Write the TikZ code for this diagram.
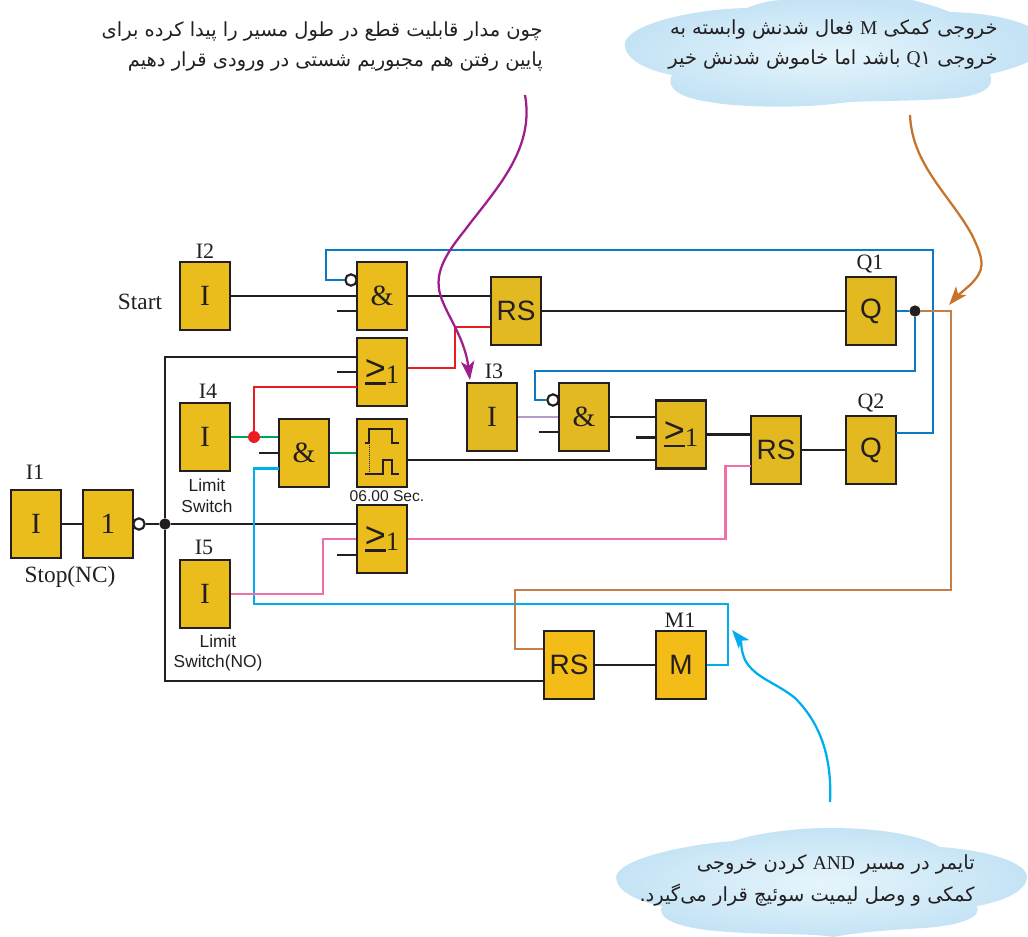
\documentclass[tikz,border=0pt]{standalone}
\usepackage{fontspec}
\setmainfont{Liberation Serif}
\setsansfont{Liberation Sans}
\newfontfamily\persianfont[Script=Arabic]{DejaVu Sans}
\TeXXeTstate=1
\usetikzlibrary{calc,arrows.meta}

\definecolor{gold}{HTML}{EABD1C}
\definecolor{darkgold}{HTML}{E2B921}
\definecolor{brightgold}{HTML}{F3BC17}
\definecolor{ink}{HTML}{231F20}
\definecolor{bluewire}{HTML}{0A7AC4}
\definecolor{cyanwire}{HTML}{00AEEF}
\definecolor{redwire}{HTML}{ED1C24}
\definecolor{greenwire}{HTML}{00A651}
\definecolor{pinkwire}{HTML}{F06EAA}
\definecolor{brownwire}{HTML}{C87D46}
\definecolor{lilacwire}{HTML}{B79CCB}
\definecolor{purplenote}{HTML}{9E1F8C}
\definecolor{orangenote}{HTML}{C8722A}
\definecolor{cloudin}{HTML}{E6F5FC}
\definecolor{cloudout}{HTML}{C4E3F5}

\newcommand{\orsign}{\mbox{\vtop{\offinterlineskip\hbox{\fontsize{27}{27}\sffamily >}\kern1.6pt\hrule height 1.7pt}\lower2.5pt\hbox{\fontsize{20}{20}\rmfamily 1}}}

\begin{document}
\begin{tikzpicture}
	[x=0.75pt,y=-0.75pt,
		block/.style={draw=ink,line width=2pt,fill=gold,inner sep=0pt,minimum
		width=37.5pt,minimum height=51pt,text=ink,font=\fontsize{22}{22}\rmfamily},
		sansblock/.style={block,fill=darkgold,font=\fontsize{21}{21}\sffamily},
		tag/.style={text=ink,inner sep=0pt,font=\fontsize{16.5}{16.5}\rmfamily},
		small/.style={text=ink,inner sep=0pt,align=center,font=\fontsize{13}{15.5}\sffamily},
		bubble/.style={circle,draw=ink,line width=1.6pt,fill=white,inner sep=0pt,minimum size=8.5pt},
		blackdot/.style={circle,fill=ink,inner sep=0pt,minimum size=8.5pt},
		reddot/.style={circle,fill=redwire,inner sep=0pt,minimum size=9pt},
		wire/.style={draw=ink,line width=1.7pt},
		note/.style={line width=1.7pt},
		persian/.style={text=ink,inner sep=0pt,anchor=east,align=right,font=\fontsize{14.6}{22.5}\persianfont}]

	% clouds
	\shade[inner color=cloudin,outer color=cloudout] (625,43)
		.. controls (628,25) and (690,9) .. (747,8)
		.. controls (760,3) and (770,0) .. (785,0) -- (912,0)
		.. controls (925,3) and (940,8) .. (950,12)
		.. controls (985,13) and (1010,18) .. (1028,26) -- (1028,62)
		.. controls (1015,68) and (1000,72) .. (990,74)
		.. controls (995,86) and (985,95) .. (955,98)
		.. controls (910,102) and (870,100) .. (840,103)
		.. controls (810,108) and (740,108) .. (710,102)
		.. controls (680,98) and (665,88) .. (672,75)
		.. controls (645,70) and (623,58) .. (625,43) -- cycle;
	\shade[inner color=cloudin,outer color=cloudout] (616,877)
		.. controls (618,860) and (680,845) .. (733,841)
		.. controls (760,832) and (800,828) .. (830,828)
		.. controls (880,828) and (920,835) .. (940,847)
		.. controls (985,850) and (1027,862) .. (1027,877)
		.. controls (1027,892) and (1000,902) .. (977,906)
		.. controls (982,918) and (960,925) .. (925,928)
		.. controls (890,930) and (860,932) .. (833,937)
		.. controls (810,933) and (770,935) .. (730,932)
		.. controls (690,930) and (655,922) .. (662,906)
		.. controls (640,902) and (616,892) .. (616,877) -- cycle;

	% left inputs
	\node (i1) at (36,524) [block] {I};
	\node (not1) at (108,524) [block] {1};
	\node (i2) at (205,296) [block] {I};
	\node (i4) at (205,437) [block] {I};
	\node (i5) at (205,594) [block] {I};
	\node (i3) at (492,417) [block,fill=darkgold] {I};

	% gates
	\node (and1) at (382,296) [block] {\&};
	\node (and2) at (304,453) [block] {\&};
	\node (and3) at (584,417) [block,fill=darkgold] {\&};
	\node (or1) at (382,372) [block] {\orsign};
	\node (or2) at (382,539) [block] {\orsign};
	\node (or3) at (681,434.5) [block,fill=darkgold] {\orsign};
	\node (timer) at (382,453) [block] {};

	% flip flops and outputs
	\node (rs1) at (516,311) [sansblock] {RS};
	\node (rs2) at (776,450) [sansblock] {RS};
	\node (rs3) at (569,665) [sansblock,fill=brightgold] {RS};
	\node (q1) at (871,311) [sansblock] {Q};
	\node (q2) at (871,450) [sansblock] {Q};
	\node (m1) at (681,665) [sansblock,fill=brightgold] {M};

	\node (bub1) at (139,524) [bubble] {};
	\node (bub2) at (351,280) [bubble] {};
	\node (bub3) at (553,400) [bubble] {};
	\node (stopdot) at (165,524) [blackdot] {};
	\node (q1dot) at (915,311) [blackdot] {};
	\node (limitdot) at (254,437) [reddot] {};

	% tags
	\node (tagi1) at (35,472) [tag] {I1};
	\node (tagi2) at (205,251) [tag] {I2};
	\node (tagi3) at (494,371) [tag] {I3};
	\node (tagi4) at (208,391) [tag] {I4};
	\node (tagi5) at (204,547) [tag] {I5};
	\node (tagq1) at (870,264) [tag] {Q1};
	\node (tagq2) at (871,403) [tag] {Q2};
	\node (tagm1) at (680,620) [tag] {M1};
	\node (start) at (140,302) [tag,font=\fontsize{17.5}{17.5}\rmfamily] {Start};
	\node (stop) at (70,577) [tag,font=\fontsize{17.5}{17.5}\rmfamily] {Stop(NC)};
	\node (limit4) at (207,496) [small] {Limit\\Switch};
	\node (limit5) at (218,653) [small] {Limit\\Switch(NO)};
	\node (delay) at (387,496) [small,font=\fontsize{11.7}{13}\sffamily] {06.00 Sec.};

	\coordinate (or1a) at (357,357);
	\coordinate (or1b) at (357,387);
	\coordinate (or1o) at (408,368);
	\coordinate (rs1r) at (490,327);
	\coordinate (and2c) at (279,468.5);
	\coordinate (timero) at (408,460);
	\coordinate (rs2r) at (751,466);
	\coordinate (rs3s) at (543,649);
	\coordinate (rs3r) at (543,681);
	\coordinate (q2o) at (896,433);
	\coordinate (bluetl) at (326,250);
	\coordinate (bluetr) at (933,250);
	\coordinate (blueml) at (535,371);
	\coordinate (redknee) at (455,368);
	\coordinate (cyanb) at (254,604);
	\coordinate (cyanr) at (728,604);
	\coordinate (pinkknee) at (323,594);
	\coordinate (pinkr) at (725.5,539);
	\coordinate (brownr) at (951,590);
	\coordinate (brownl) at (515,590);

	% black wires
	\draw[wire] (i1) -- (not1);
	\draw[wire] (bub1) -- (stopdot) -- (stopdot -| or2.west);
	\draw[wire] (or1a) -| (stopdot) |- (rs3r);
	\draw[wire] (i2) -- (and1);
	\draw[wire] (and1) -- (and1 -| rs1.west);
	\draw[wire] (rs1) -- (q1);
	\draw[wire] (i3.east -| and3.east) -- (i3.east -| or3.west);
	\draw[wire] (timero) -- (timero -| or3.west);
	\draw[wire] (or3) -- (or3 -| rs2.west);
	\draw[wire] (rs2) -- (q2);
	\draw[wire] (rs3) -- (m1);
	\foreach \blk/\off in {and1/15,or1/0,and2/0,or2/16,and3/15,or3/3}
		\draw[wire] ($(\blk.west)+(0,\off)$) -- +(-19,0);

	% coloured wires
	\draw[wire,draw=bluewire] (q2o) -| (bluetr) -- (bluetl) |- (bub2.west);
	\draw[wire,draw=bluewire] (q1.east) -- (q1dot.west);
	\draw[wire,draw=bluewire] (q1dot.south) |- (blueml) |- (bub3.west);
	\draw[wire,draw=brownwire] (q1dot.east) -| (brownr) -- (brownl) |- (rs3s);
	\draw[wire,draw=redwire] (or1o) -- (redknee) |- (rs1r);
	\draw[wire,draw=redwire] (or1b) -| (limitdot.north);
	\draw[wire,draw=greenwire] (i4.east) -- (limitdot.west);
	\draw[wire,draw=greenwire] (limitdot.east) -- (limitdot.east -| and2.west);
	\draw[wire,draw=greenwire] (and2) -- (timer);
	\draw[wire,draw=cyanwire] (and2c) -| (cyanb) -- (cyanr) |- (m1.east);
	\draw[wire,draw=pinkwire] (i5.east) -- (pinkknee) |- (or2);
	\draw[wire,draw=pinkwire] (or2.east) -- (pinkr) |- (rs2r);
	\draw[wire,draw=lilacwire] (i3.east) -- (and3.west);

	% pulse in the timer
	\draw[draw=ink,line width=0.8pt] (365,443) -- (369,443) -- (369,429) -- (392,429) -- (392,443) -- (399,443);
	\draw[draw=ink,line width=0.8pt] (365,474) -- (383,474) -- (383,460) -- (392,460) -- (392,474) -- (399,474);
	\draw[draw=ink,line width=0.5pt,densely dotted] (369,443) -- (369,474);

	% remarks
	\draw[note,draw=purplenote,-{Stealth[length=14pt,width=10pt,inset=3.5pt]}] (525,95)
		.. controls (535,150) and (495,190) .. (465,230)
		.. controls (445,255) and (432,275) .. (442,300)
		.. controls (450,320) and (465,340) .. (470,380);
	\draw[note,draw=orangenote,-{Stealth[length=14pt,width=10pt,inset=3.5pt]}] (910,115)
		.. controls (912,165) and (950,195) .. (972,235)
		.. controls (985,262) and (985,270) .. (970,285)
		.. controls (962,292) and (955,298) .. (949,305);
	\draw[note,draw=cyanwire,-{Stealth[length=14pt,width=10pt,inset=3.5pt]}] (830,802)
		.. controls (832,760) and (822,725) .. (795,698)
		.. controls (775,682) and (755,678) .. (745,660)
		.. controls (740,648) and (742,642) .. (732,630);

	% texts
	\node (text1) at (543,46) [persian] {\beginR چون مدار قابلیت قطع در طول مسیر را پیدا کرده برای\endR\\\beginR پایین رفتن هم مجبوریم شستی در ورودی قرار دهیم\endR};
	\node (text2) at (998,44) [persian] {\beginR خروجی کمکی {\rmfamily\beginL M\endL} فعال شدنش وابسته به\endR\\\beginR خروجی \beginL{\rmfamily Q}۱\endL{} باشد اما خاموش شدنش خیر\endR};
	\node (text3) at (975,880) [persian,font=\fontsize{14.6}{24}\persianfont] {\beginR تایمر در مسیر {\rmfamily\beginL AND\endL} کردن خروجی\endR\\\beginR کمکی و وصل لیمیت سوئیچ قرار می‌گیرد.\endR};

	\useasboundingbox (0,0) rectangle (1028,937);
\end{tikzpicture}
\end{document}
